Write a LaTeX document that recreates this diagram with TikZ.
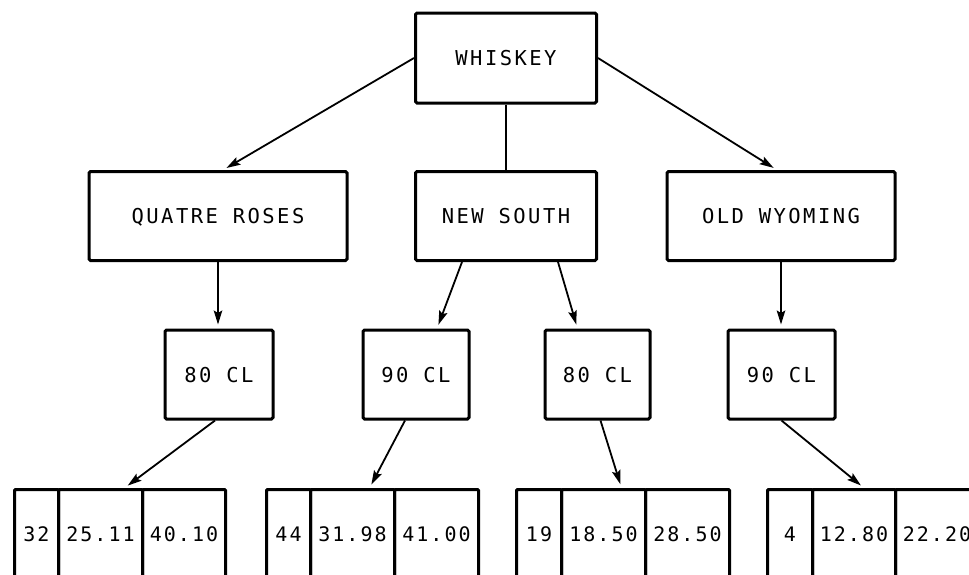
\documentclass[tikz,border=0pt]{standalone}
\usepackage{fontspec}
\newfontfamily\labelfont[LetterSpace=12]{DejaVu Sans Mono}
\newfontfamily\cellfont[LetterSpace=10]{DejaVu Sans Mono}
\usetikzlibrary{arrows.meta,calc}

\begin{document}
\begin{tikzpicture}[x=1pt,y=-1pt,
  box/.style={draw, line width=3pt, rounded corners=1.5pt, inner sep=0pt,
    text depth=0pt, minimum height=89pt,
    font=\labelfont\fontsize{20.5}{20.5}\selectfont},
  cell/.style={draw, line width=3pt, rounded corners=1pt, inner sep=0pt,
    text depth=0pt, minimum height=90pt, anchor=north west,
    font=\cellfont\fontsize{20}{20}\selectfont},
  conn/.style={line width=1.8pt},
  arrow/.style={conn, -{Stealth[length=14pt,width=8.5pt,inset=2.5pt]}, shorten >=4pt}]
\useasboundingbox (0,0) rectangle (969,574);
\clip (0,0) rectangle (969,574);

% brand level
\node[box, minimum width=181pt, minimum height=90pt] (whiskey) at (506,58) {WHISKEY};
\node[box, minimum width=258pt] (quatre)   at (218,216) {QUATRE ROSES};
\node[box, minimum width=181pt] (newsouth) at (506,216) {NEW SOUTH};
\node[box, minimum width=228pt] (oldwy)    at (781,216) {OLD WYOMING};

% bottle sizes
\node[box, minimum width=108pt] (cl1) at (219,374.5)   {80 CL};
\node[box, minimum width=106pt] (cl2) at (416,374.5)   {90 CL};
\node[box, minimum width=105pt] (cl3) at (597.5,374.5) {80 CL};
\node[box, minimum width=107pt] (cl4) at (781.5,374.5) {90 CL};

% record tables (open at the bottom)
\node[cell, minimum width=44pt] (t1a) at (13,488)  {32};
\node[cell, minimum width=84pt] (t1b) at (57,488)  {25.11};
\node[cell, minimum width=83pt] (t1c) at (141,488) {40.10};

\node[cell, minimum width=44pt] (t2a) at (265,488) {44};
\node[cell, minimum width=84pt] (t2b) at (309,488) {31.98};
\node[cell, minimum width=84pt] (t2c) at (393,488) {41.00};

\node[cell, minimum width=45pt] (t3a) at (515,488) {19};
\node[cell, minimum width=84pt] (t3b) at (560,488) {18.50};
\node[cell, minimum width=84pt] (t3c) at (644,488) {28.50};

\node[cell, minimum width=45pt] (t4a) at (766,488) {4};
\node[cell, minimum width=83pt] (t4b) at (811,488) {12.80};
\node[cell, minimum width=83pt] (t4c) at (894,488) {22.20};

% connectors
\draw[arrow] (whiskey.west) -- ($(quatre.north)+(5,0)$);
\draw[arrow] (whiskey.east) -- ($(oldwy.north)+(-4,0)$);
\draw[conn] (whiskey.south) -- (newsouth.north);

\draw[arrow] (quatre.south) -- (quatre.south |- cl1.north);
\draw[arrow] ($(newsouth.south)+(-44,0)$) -- ($(cl2.north)+(21,0)$);
\draw[arrow] ($(newsouth.south)+(52,0)$) -- ($(cl3.north)+(-20,0)$);
\draw[arrow] (oldwy.south) -- (oldwy.south |- cl4.north);

\draw[arrow] ($(cl1.south)+(-4,0)$) -- ($(t1b.north)+(24,0)$);
\draw[arrow] ($(cl2.south)+(-11,0)$) -- ($(t2b.north)+(17,0)$);
\draw[arrow] ($(cl3.south)+(3,0)$) -- ($(t3b.north)+(18,0)$);
\draw[arrow] (cl4.south) -- ($(t4b.north)+(10,0)$);
\end{tikzpicture}
\end{document}
